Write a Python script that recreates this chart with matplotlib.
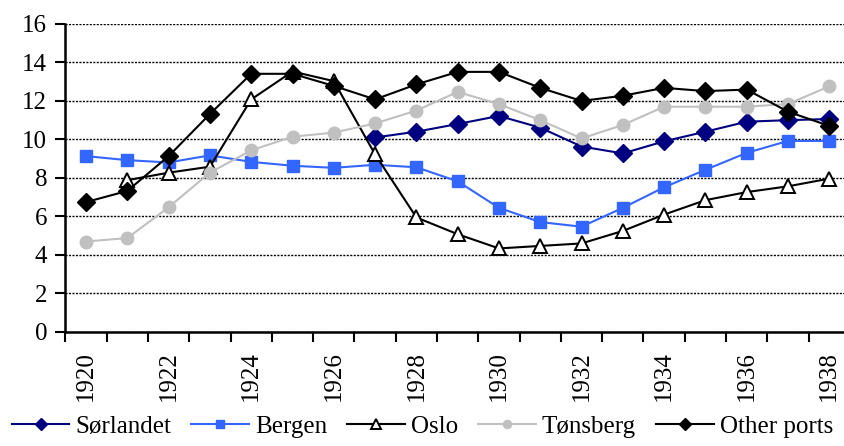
import numpy as np
import matplotlib.pyplot as plt
from matplotlib.ticker import FixedLocator

plt.rcParams['font.family'] = ['Liberation Serif', 'DejaVu Serif']
plt.rcParams['font.size'] = 18

years = list(range(1920, 1939))
year_labels = [str(y) if y % 2 == 0 else '' for y in years]

# Sørlandet og Oslo starter senere enn de andre
sorlandet = [np.nan] * 7 + [10.1, 10.4, 10.8, 11.22, 10.61, 9.63, 9.27, 9.9,
                            10.4, 10.92, 11.0, 11.06]
bergen = [9.13, 8.92, 8.8, 9.17, 8.83, 8.63, 8.52, 8.68, 8.55, 7.82, 6.44,
          5.7, 5.46, 6.44, 7.51, 8.42, 9.3, 9.92, 9.92]
oslo = [np.nan, 7.88, 8.27, 8.58, 12.08, 13.53, 13.03, 9.22, 5.94, 5.07, 4.33,
        4.46, 4.59, 5.24, 6.09, 6.84, 7.26, 7.56, 7.96]
tonsberg = [4.69, 4.87, 6.47, 8.27, 9.43, 10.14, 10.35, 10.83, 11.5, 12.47,
            11.83, 11.0, 10.05, 10.75, 11.7, 11.7, 11.7, 11.84, 12.76]
other = [6.74, 7.32, 9.13, 11.32, 13.41, 13.41, 12.78, 12.08, 12.86, 13.51,
         13.51, 12.68, 12.0, 12.27, 12.68, 12.51, 12.59, 11.44, 10.7]

fig = plt.figure(figsize=(8.45, 4.46), dpi=100)
ax = fig.add_axes([65.4 / 845, 1 - 331.7 / 446, 1 - 65.4 / 845, (331.7 - 24) / 446])

x = np.arange(len(years))
lw = 1.5
ax.plot(x, sorlandet, color='#000080', lw=lw, marker='D', ms=9, label='Sørlandet')
ax.plot(x, bergen, color='#3366FF', lw=lw, marker='s', ms=8.5, label='Bergen')
ax.plot(x, oslo, color='black', lw=lw, marker='^', ms=10.5, mfc='white', mec='black',
        mew=1.4, label='Oslo')
ax.plot(x, tonsberg, color='#C0C0C0', lw=lw, marker='o', ms=9, label='Tønsberg')
ax.plot(x, other, color='black', lw=lw, marker='D', ms=9, label='Other ports')

ax.set_ylim(0, 16)
ax.set_yticks(range(0, 17, 2))
ax.set_xlim(-0.5, 18.38)
ax.set_xticks(x)
ax.set_xticklabels(year_labels, rotation=90)
ax.xaxis.set_minor_locator(FixedLocator(np.arange(-0.5, 18.5, 1)))
ax.tick_params(axis='x', which='major', length=0, pad=14)
ax.tick_params(axis='x', which='minor', length=7, width=1.5, direction='out')
ax.tick_params(axis='y', length=7, width=1.5, direction='out', pad=6)

ax.yaxis.grid(True, color='black', linestyle=(0, (1.5, 1)), linewidth=1)
ax.set_axisbelow(True)
for side in ['top', 'right']:
    ax.spines[side].set_visible(False)
for side in ['left', 'bottom']:
    ax.spines[side].set_linewidth(1.8)
    ax.spines[side].set_zorder(5)

fig.legend(loc='lower center', bbox_to_anchor=(0.5, -0.01), ncol=5, frameon=False,
           handlelength=2.3, handletextpad=0.25, columnspacing=0.8, markerscale=0.65,
           borderaxespad=0.1)

fig.savefig('out.png', dpi=100)
